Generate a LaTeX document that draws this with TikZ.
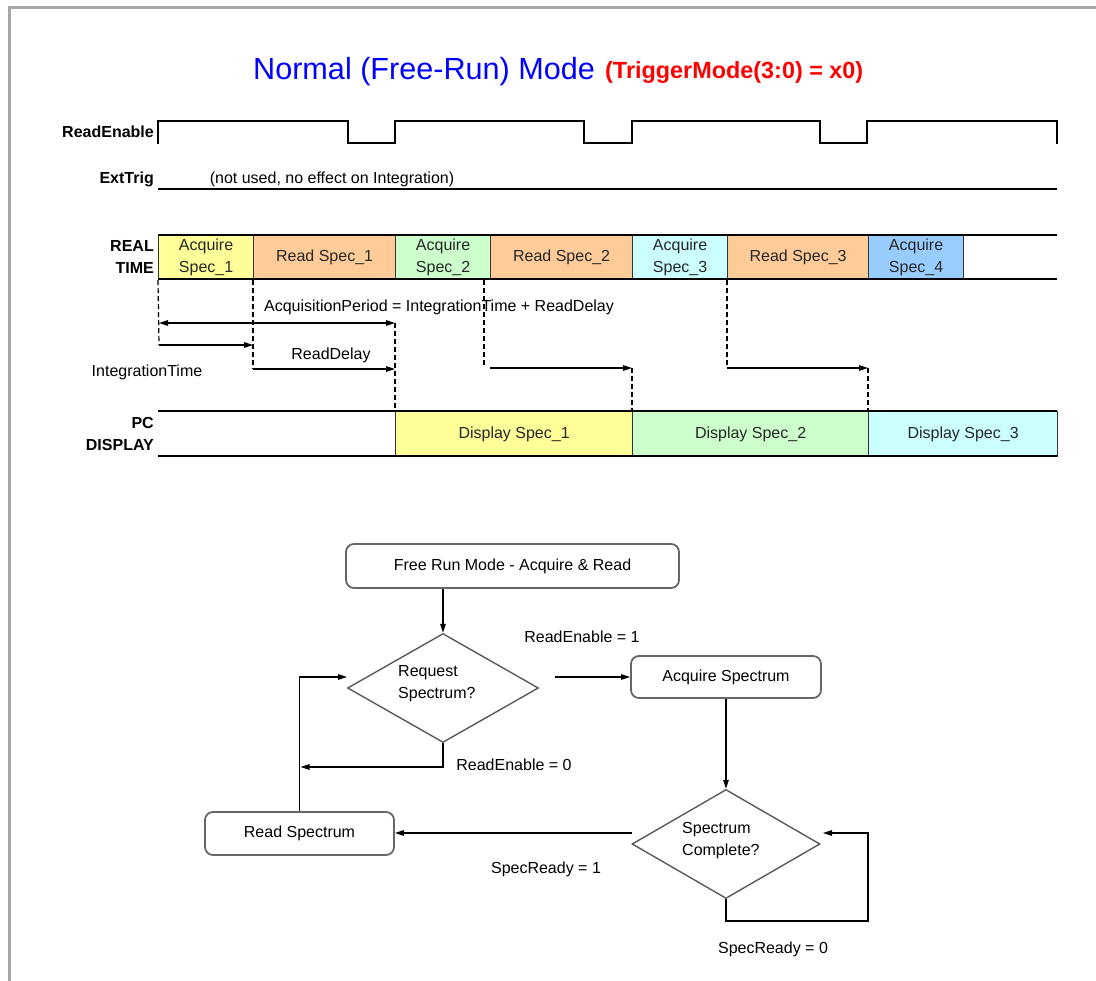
\documentclass[tikz,border=0pt]{standalone}
\usepackage{fontspec}
\setmainfont{Liberation Sans}
\usetikzlibrary{arrows.meta,shapes.geometric}
\definecolor{cyel}{HTML}{FFFF99}
\definecolor{corg}{HTML}{FFCC99}
\definecolor{cgrn}{HTML}{CCFFCC}
\definecolor{ccyn}{HTML}{CCFFFF}
\definecolor{cblu}{HTML}{99CCFF}
\definecolor{tblue}{HTML}{0000FF}
\definecolor{tred}{HTML}{FF0000}
\definecolor{frame}{HTML}{A8A8A8}
\newcommand{\tf}{\fontsize{16}{22}\selectfont}
\tikzset{
  txt/.style={inner sep=0pt, font=\tf},
  lbl/.style={inner sep=0pt, font=\tf\bfseries, anchor=east, align=right},
  cell/.style={draw=black!80, line width=1.2pt, anchor=north west, inner sep=0pt,
    align=center, font=\tf, text=black!85, minimum height=44pt},
  wave/.style={line width=2.4pt, line join=miter},
  rowline/.style={line width=2.4pt},
  dline/.style={dash pattern=on 5pt off 3pt, line width=1.2pt},
  arr/.style={-{Triangle[length=9pt,width=5.5pt]}, line width=1.3pt},
  darr/.style={{Triangle[length=9pt,width=5.5pt]}-{Triangle[length=9pt,width=5.5pt]}, line width=1.3pt},
  fbox/.style={draw=black!60, line width=1.8pt, rounded corners=8pt, inner sep=0pt, font=\tf},
  dec/.style={diamond, draw=black!65, line width=1.4pt, inner sep=0pt, minimum width=191pt, minimum height=109pt}
}
\begin{document}
\begin{tikzpicture}[x=1pt,y=-1pt]
\useasboundingbox (0,0) rectangle (1096,981);
% frame
\draw[frame, line width=3pt] (9,981) -- (9,8) -- (1096,8);
% title
\node[inner sep=0pt, anchor=base west, font=\fontsize{30.6}{34}\selectfont, text=tblue] (title) at (253,80) {Normal (Free-Run) Mode};
\node[inner sep=0pt, anchor=base west, font=\fontsize{23.4}{26}\selectfont\bfseries, text=tred] (mode) at (605,79) {(TriggerMode(3:0) = x0)};
% signal labels
\node[lbl] (lre) at (154,132) {ReadEnable};
\node[lbl] (lext) at (154,179) {ExtTrig};
\node[lbl] (lrt) at (154,257) {REAL\\TIME};
\node[lbl] (lpc) at (154,434) {PC\\DISPLAY};
% ReadEnable waveform
\draw[wave] (158,144) -- (158,121) -- (348,121) -- (348,143) -- (395,143) -- (395,121)
  -- (584,121) -- (584,143) -- (632,143) -- (632,121) -- (820,121) -- (820,143)
  -- (867,143) -- (867,121) -- (1057,121) -- (1057,144);
% ExtTrig
\draw[rowline] (158,189) -- (1057,189);
\node[txt] (nu) at (332,179) {(not used, no effect on Integration)};
% REAL TIME row
\node[cell, fill=cyel, minimum width=95pt] (a1) at (158,235) {Acquire\\Spec\_1};
\node[cell, fill=corg, minimum width=142pt] (r1) at (253,235) {Read Spec\_1};
\node[cell, fill=cgrn, minimum width=95pt] (a2) at (395,235) {Acquire\\Spec\_2};
\node[cell, fill=corg, minimum width=142pt] (r2) at (490,235) {Read Spec\_2};
\node[cell, fill=ccyn, minimum width=95pt] (a3) at (632,235) {Acquire\\Spec\_3};
\node[cell, fill=corg, minimum width=141pt] (r3) at (727,235) {Read Spec\_3};
\node[cell, fill=cblu, minimum width=95pt] (a4) at (868,235) {Acquire\\Spec\_4};
\draw[rowline] (158,235) -- (1057,235);
\draw[rowline] (158,279) -- (1057,279);
% PC DISPLAY row
\node[cell, fill=cyel, minimum width=237pt, minimum height=45pt] (d1) at (395,411) {Display Spec\_1};
\node[cell, fill=cgrn, minimum width=236pt, minimum height=45pt] (d2) at (632,411) {Display Spec\_2};
\node[cell, fill=ccyn, minimum width=189pt, minimum height=45pt] (d3) at (868,411) {Display Spec\_3};
\draw[rowline] (158,411) -- (1057,411);
\draw[rowline] (158,456) -- (1057,456);
% timing annotations
\coordinate (p1) at (159,345);
\coordinate (p2) at (253,369);
\coordinate (p3) at (395,323);
\coordinate (p4) at (484,368);
\coordinate (p4b) at (490,368);
\coordinate (p5) at (632,368);
\coordinate (p6) at (727,368);
\coordinate (p7) at (868,368);
\draw[dline] (a1.south west) -- (p1);
\draw[dline] (r1.south west) -- (p2);
\draw[dline] (p3) -- (d1.north west);
\draw[dline] (a2.south east -| p4) -- (p4);
\draw[dline] (p5) -- (d2.north west);
\draw[dline] (r3.south west) -- (p6);
\draw[dline] (p7) -- (d3.north west);
\draw[darr] (p1 |- p3) -- (p3);
\draw[arr] (p1) -- (p1 -| r1.west);
\draw[arr] (p2) -- (p2 -| d1.west);
\draw[arr] (p4b) -- (p5);
\draw[arr] (p6) -- (p7);
\node[txt] (tap) at (439,307) {AcquisitionPeriod = IntegrationTime + ReadDelay};
\node[txt] (trd) at (331,355) {ReadDelay};
\node[txt] (tit) at (147,372) {IntegrationTime};
% flowchart
\node[fbox, minimum width=333pt, minimum height=44pt] (start) at (512.5,566) {Free Run Mode - Acquire \& Read};
\node[dec] (q1) at (443,688) {};
\node[txt, anchor=west, align=left] (q1t) at (398,684) {Request\\Spectrum?};
\node[fbox, minimum width=190pt, minimum height=42pt] (acq) at (726,677) {Acquire Spectrum};
\node[dec, minimum width=188pt] (q2) at (726,844) {};
\node[txt, anchor=west, align=left] (q2t) at (682,841) {Spectrum\\Complete?};
\node[fbox, minimum width=189pt, minimum height=43pt] (rs) at (299.5,833.5) {Read Spectrum};
\draw[arr] (start.south -| q1.north) -- (q1.north);
\coordinate (q1r) at (555,677);
\draw[arr] (q1r) -- (acq.west);
\draw[arr] (acq.south) -- (q2.north);
\draw[arr] (q2.south) -- (726,921) -- (868,921) -- (868,833) -- (823,833);
\coordinate (q2l) at (632,833);
\draw[arr] (q2l) -- (rs.east |- q2l);
\draw[arr] (rs.north) -- (299.5,677) -- (347,677);
\draw[arr] (q1.south) -- (443,767) -- (300.5,767);
\node[txt] (e1) at (582,637) {ReadEnable = 1};
\node[txt] (e0) at (514,765) {ReadEnable = 0};
\node[txt] (s1) at (546,869) {SpecReady = 1};
\node[txt] (s0) at (773,949) {SpecReady = 0};
\end{tikzpicture}
\end{document}
